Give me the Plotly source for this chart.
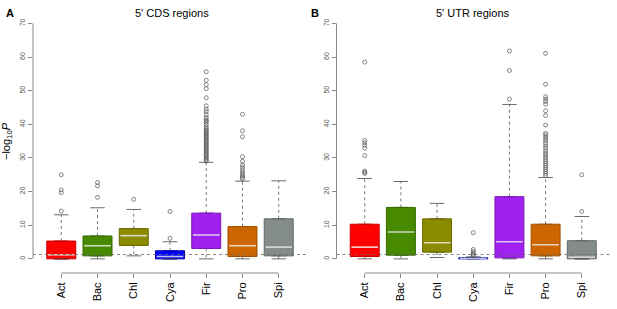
import plotly.graph_objects as go

categories = ["Act", "Bac", "Chl", "Cya", "Fir", "Pro", "Spi"]
colors = ["#FF0000", "#478A00", "#8B8B00", "#0000FF", "#A020F0", "#CD6600", "#838B8B"]
borders = ["#C80000", "#356800", "#6A6A00", "#0000B0", "#7A18B8", "#A05000", "#646A6A"]

# Panel A: 5' CDS regions
a_q1 = [0.0, 0.9, 4.0, 0.0, 3.1, 0.7, 0.9]
a_med = [1.2, 3.9, 6.9, 0.7, 7.1, 3.9, 3.5]
a_q3 = [5.3, 6.8, 9.0, 2.4, 13.6, 9.6, 11.9]
a_lo = [0.0, 0.0, 0.9, 0.0, 0.0, 0.0, 0.0]
a_hi = [13.1, 15.2, 14.7, 5.1, 28.7, 23.1, 23.2]
a_out = [
    [14.2, 19.7, 20.5, 25.0],
    [18.3, 21.7, 22.7],
    [17.7],
    [6.1, 14.1],
    [29.1, 29.5, 29.9, 30.3, 30.7, 31.0, 31.4, 31.8, 32.2, 32.6, 33.0, 33.3, 33.7,
     34.1, 34.5, 34.9, 35.3, 35.6, 36.0, 36.4, 36.8, 37.2, 37.5, 37.9, 38.3, 38.7,
     39.2, 39.9, 40.6, 41.0, 41.4, 42.0, 42.9, 43.8, 44.5, 45.5, 47.9, 50.6, 51.8,
     53.1, 55.6],
    [23.8, 24.2, 24.7, 25.2, 25.8, 26.5, 27.2, 27.9, 29.0, 30.4, 36.3, 38.1, 43.0],
    [],
]

# Panel B: 5' UTR regions
b_q1 = [0.7, 1.1, 2.0, 0.0, 0.3, 0.9, 0.0]
b_med = [3.5, 8.0, 4.8, 0.1, 5.1, 4.2, 0.5]
b_q3 = [10.3, 15.3, 11.9, 0.3, 18.5, 10.3, 5.4]
b_lo = [0.0, 0.0, 0.4, 0.0, 0.0, 0.0, 0.0]
b_hi = [23.9, 23.0, 16.5, 0.6, 45.9, 24.2, 12.6]
b_out = [
    [25.4, 25.7, 26.1, 30.7, 32.9, 33.8, 34.5, 35.2, 58.5],
    [],
    [],
    [0.9, 1.3, 1.7, 2.2, 2.8, 7.8],
    [47.5, 56.0, 61.8],
    [24.8, 25.4, 26.0, 26.6, 27.2, 27.8, 28.4, 29.0, 29.6, 30.2, 30.8, 31.4, 32.1,
     32.9, 33.5, 34.3, 35.0, 35.6, 36.2, 36.8, 37.3, 39.8, 42.6, 44.0, 46.0, 46.8,
     47.5, 48.2, 51.9, 61.1],
    [14.1, 25.0],
]

y_ticks = [0, 10, 20, 30, 40, 50, 60, 70]
threshold = 1.3  # -log10(0.05)

panels = [
    dict(q1=a_q1, med=a_med, q3=a_q3, lo=a_lo, hi=a_hi, out=a_out, xa="x", ya="y"),
    dict(q1=b_q1, med=b_med, q3=b_q3, lo=b_lo, hi=b_hi, out=b_out, xa="x2", ya="y2"),
]

fig = go.Figure()
box_w = 0.8
staple = 0.2
for p in panels:
    xs = list(range(1, len(categories) + 1))
    for i, c in enumerate(categories):
        fig.add_trace(go.Box(
            x=[xs[i]], q1=[p["q1"][i]], median=[p["med"][i]], q3=[p["q3"][i]],
            lowerfence=[p["q1"][i]], upperfence=[p["q3"][i]],
            width=box_w, fillcolor=colors[i], line=dict(color=borders[i], width=1),
            xaxis=p["xa"], yaxis=p["ya"], showlegend=False, hoverinfo="skip",
            boxpoints=False,
        ))
    wx, wy = [], []
    sx, sy = [], []
    mx, my = [], []
    for i in range(len(categories)):
        x = xs[i]
        wx += [x, x, None, x, x, None]
        wy += [p["q3"][i], p["hi"][i], None, p["q1"][i], p["lo"][i], None]
        sx += [x - staple, x + staple, None, x - staple, x + staple, None]
        sy += [p["hi"][i], p["hi"][i], None, p["lo"][i], p["lo"][i], None]
        mx += [x - box_w / 2 + 0.03, x + box_w / 2 - 0.03, None]
        my += [p["med"][i], p["med"][i], None]
    fig.add_trace(go.Scatter(x=wx, y=wy, mode="lines", line=dict(color="#555555", width=0.8, dash="dot"),
                             xaxis=p["xa"], yaxis=p["ya"], showlegend=False, hoverinfo="skip"))
    fig.add_trace(go.Scatter(x=sx, y=sy, mode="lines", line=dict(color="#444444", width=0.8),
                             xaxis=p["xa"], yaxis=p["ya"], showlegend=False, hoverinfo="skip"))
    fig.add_trace(go.Scatter(x=mx, y=my, mode="lines", line=dict(color="rgba(255,255,255,0.75)", width=1.6),
                             xaxis=p["xa"], yaxis=p["ya"], showlegend=False, hoverinfo="skip"))
    fig.add_trace(go.Scatter(x=[0.22, 7.78], y=[threshold, threshold], mode="lines",
                             line=dict(color="#666666", width=0.8, dash="dot"),
                             xaxis=p["xa"], yaxis=p["ya"], showlegend=False, hoverinfo="skip"))
    ox, oy = [], []
    for i in range(len(categories)):
        ox += [xs[i]] * len(p["out"][i])
        oy += p["out"][i]
    fig.add_trace(go.Scatter(x=ox, y=oy, mode="markers",
                             marker=dict(symbol="circle-open", size=4, color="#555555", line=dict(width=0.7)),
                             xaxis=p["xa"], yaxis=p["ya"], showlegend=False, hoverinfo="skip"))
    fig.add_shape(type="line", xref=p["xa"], yref=p["ya"] + " domain", x0=1, x1=7, y0=0, y1=0,
                  line=dict(color="#888888", width=1))
    fig.add_shape(type="line", xref=p["xa"] + " domain", yref=p["ya"], x0=0, x1=0, y0=0, y1=70,
                  line=dict(color="#888888", width=1))

W, H = 617, 309
ydom = [1 - 273 / H, 1 - 14 / H]
xaxis_common = dict(range=[0.22, 7.78], tickvals=list(range(1, 8)), ticktext=categories,
                    tickangle=-90, ticks="outside", ticklen=4, tickcolor="#888888",
                    showgrid=False, zeroline=False, showline=False,
                    tickfont=dict(family="Liberation Sans, Arial", size=11, color="black"))
yaxis_common = dict(range=[-4.2, 72.8], tickvals=y_ticks, tickangle=-90, ticks="outside",
                    ticklen=4, tickcolor="#888888", showgrid=False, zeroline=False, showline=False,
                    tickfont=dict(family="Liberation Sans, Arial", size=7, color="#555555"), domain=ydom)

fig.update_layout(
    width=W, height=H, margin=dict(l=0, r=0, t=0, b=0),
    paper_bgcolor="white", plot_bgcolor="white",
    xaxis=dict(domain=[33 / W, 307 / W], anchor="y", **xaxis_common),
    yaxis=dict(anchor="x", **yaxis_common),
    xaxis2=dict(domain=[336.5 / W, 610 / W], anchor="y2", **xaxis_common),
    yaxis2=dict(anchor="x2", **yaxis_common),
    font=dict(family="Liberation Sans, Arial"),
)

ann_font = dict(family="Liberation Sans, Arial", size=11, color="black")
common = dict(xref="paper", yref="paper", showarrow=False, xanchor="center", yanchor="middle")
fig.add_annotation(x=172 / W, y=1 - 13 / H, text="5' CDS regions", font=ann_font, **common)
fig.add_annotation(x=473 / W, y=1 - 13 / H, text="5' UTR regions", font=ann_font, **common)
fig.add_annotation(x=10 / W, y=1 - 13 / H, text="<b>A</b>",
                   font=dict(family="Liberation Sans, Arial", size=11, color="black"), **common)
fig.add_annotation(x=315 / W, y=1 - 13 / H, text="<b>B</b>",
                   font=dict(family="Liberation Sans, Arial", size=11, color="black"), **common)
fig.add_annotation(x=7 / W, y=1 - 141 / H, text="−log<sub>10</sub><i>P</i>", textangle=-90,
                   font=dict(family="Liberation Sans, Arial", size=11, color="black"), **common)

fig.write_html("out.html", config={"displayModeBar": False},
               post_script="document.body.style.margin='0';")
